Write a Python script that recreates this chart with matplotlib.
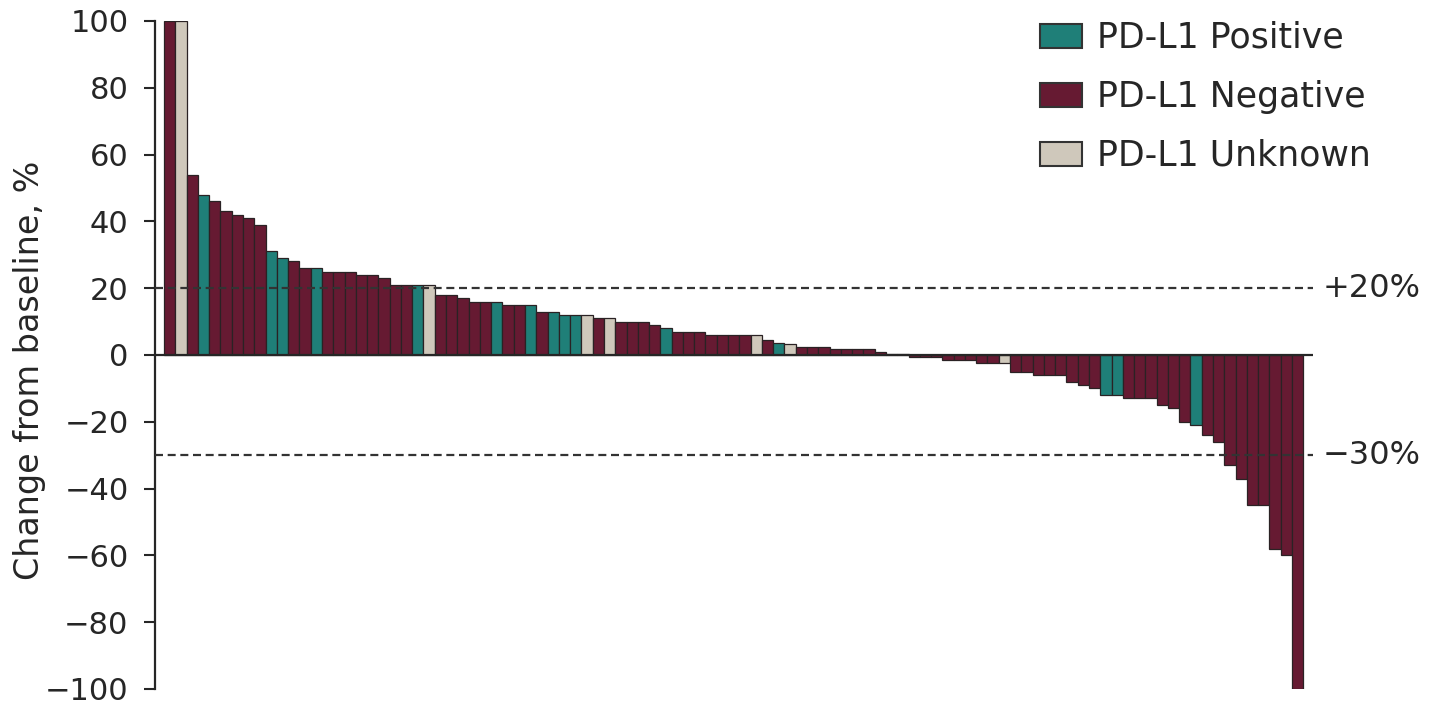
import matplotlib
matplotlib.use("Agg")
from matplotlib import pyplot as plt
from matplotlib.patches import Patch
from matplotlib.transforms import blended_transform_factory

# percent change from baseline, one bar per patient (sorted)
change = [100, 100, 54, 48, 46, 43, 42, 41, 39, 31,
          29, 28, 26, 26, 25, 25, 25, 24, 24, 23,
          21, 21, 21, 21, 18, 18, 17, 16, 16, 16,
          15, 15, 15, 13, 13, 12, 12, 12, 11, 11,
          10, 10, 10, 9, 8, 7, 7, 7, 6, 6,
          6, 6, 6, 4.5, 3.5, 3.2, 2.5, 2.5, 2.5, 1.7,
          1.7, 1.7, 1.7, 0.8, 0.3, 0.3, -0.7, -0.7, -0.7, -1.5,
          -1.5, -1.5, -2.3, -2.3, -2.3, -5, -5, -6, -6, -6,
          -8, -9, -10, -12, -12, -13, -13, -13, -15, -16,
          -20, -21, -24, -26, -33, -37, -45, -45, -58, -60,
          -100]

# PD-L1 status per bar: P positive, N negative, U unknown
status = ["N", "U", "N", "P", "N", "N", "N", "N", "N", "P",
          "P", "N", "N", "P", "N", "N", "N", "N", "N", "N",
          "N", "N", "P", "U", "N", "N", "N", "N", "N", "P",
          "N", "N", "P", "N", "P", "P", "P", "U", "N", "U",
          "N", "N", "N", "N", "P", "N", "N", "N", "N", "N",
          "N", "N", "U", "N", "P", "U", "N", "N", "N", "N",
          "N", "N", "N", "N", "N", "N", "N", "N", "N", "N",
          "N", "N", "N", "N", "U", "N", "N", "N", "N", "N",
          "N", "N", "N", "P", "P", "N", "N", "N", "N", "N",
          "N", "P", "N", "N", "N", "N", "N", "N", "N", "N",
          "N"]

legend_labels = ["PD-L1 Positive", "PD-L1 Negative", "PD-L1 Unknown"]
ref_lines = [20, -30]
ref_labels = ["+20%", "\u221230%"]
yticks = [100, 80, 60, 40, 20, 0, -20, -40, -60, -80, -100]

colors = {"P": "#1f7f78", "N": "#661a32", "U": "#cfc8bb"}
ink = "#262626"

plt.rcParams["font.family"] = ["DejaVu Sans"]

fig = plt.figure(figsize=(14.33, 7.07), dpi=100)
ax = fig.add_axes([155 / 1433, 18 / 707, 1158 / 1433, 668 / 707])

x = list(range(len(change)))
ax.bar(x, change, width=1.0, color=[colors[s] for s in status],
       edgecolor="#2a2224", linewidth=0.9, zorder=2)

ax.axhline(0, color=ink, lw=1.6, zorder=3)
trans = blended_transform_factory(ax.transAxes, ax.transData)
for v, lab in zip(ref_lines, ref_labels):
    ax.axhline(v, color="#333333", lw=1.6, linestyle=(0, (3.6, 2.1)), zorder=4)
    ax.text(1.008, v, lab, transform=trans, ha="left", va="center",
            fontsize=23, color=ink, clip_on=False)

ax.set_xlim(-1.30, 101.36)
ax.set_ylim(-100, 100)
ax.set_yticks(yticks)
ax.set_yticklabels([str(t).replace("-", "\u2212") for t in yticks])
ax.set_xticks([])
for sp in ["top", "right", "bottom"]:
    ax.spines[sp].set_visible(False)
ax.spines["left"].set_linewidth(1.6)
ax.spines["left"].set_color(ink)
ax.tick_params(axis="y", length=8, width=1.5, pad=11, labelsize=22,
               colors=ink, labelcolor=ink)

fig.text(30 / 1433, 1 - 370 / 707, "Change from baseline, %", rotation=90,
         ha="center", va="center", fontsize=24, color=ink)

handles = [Patch(facecolor=colors[k], edgecolor="#333333", linewidth=1.5)
           for k in ["P", "N", "U"]]
leg = ax.legend(handles, legend_labels, loc="upper left",
                bbox_to_anchor=(1040 / 1433, 1 - 21 / 707),
                bbox_transform=fig.transFigure, frameon=False, fontsize=25,
                handlelength=1.2, handleheight=0.7, handletextpad=0.45,
                labelspacing=0.72, borderpad=0, borderaxespad=0)
for t in leg.get_texts():
    t.set_color(ink)

fig.savefig("out.png", dpi=100)
